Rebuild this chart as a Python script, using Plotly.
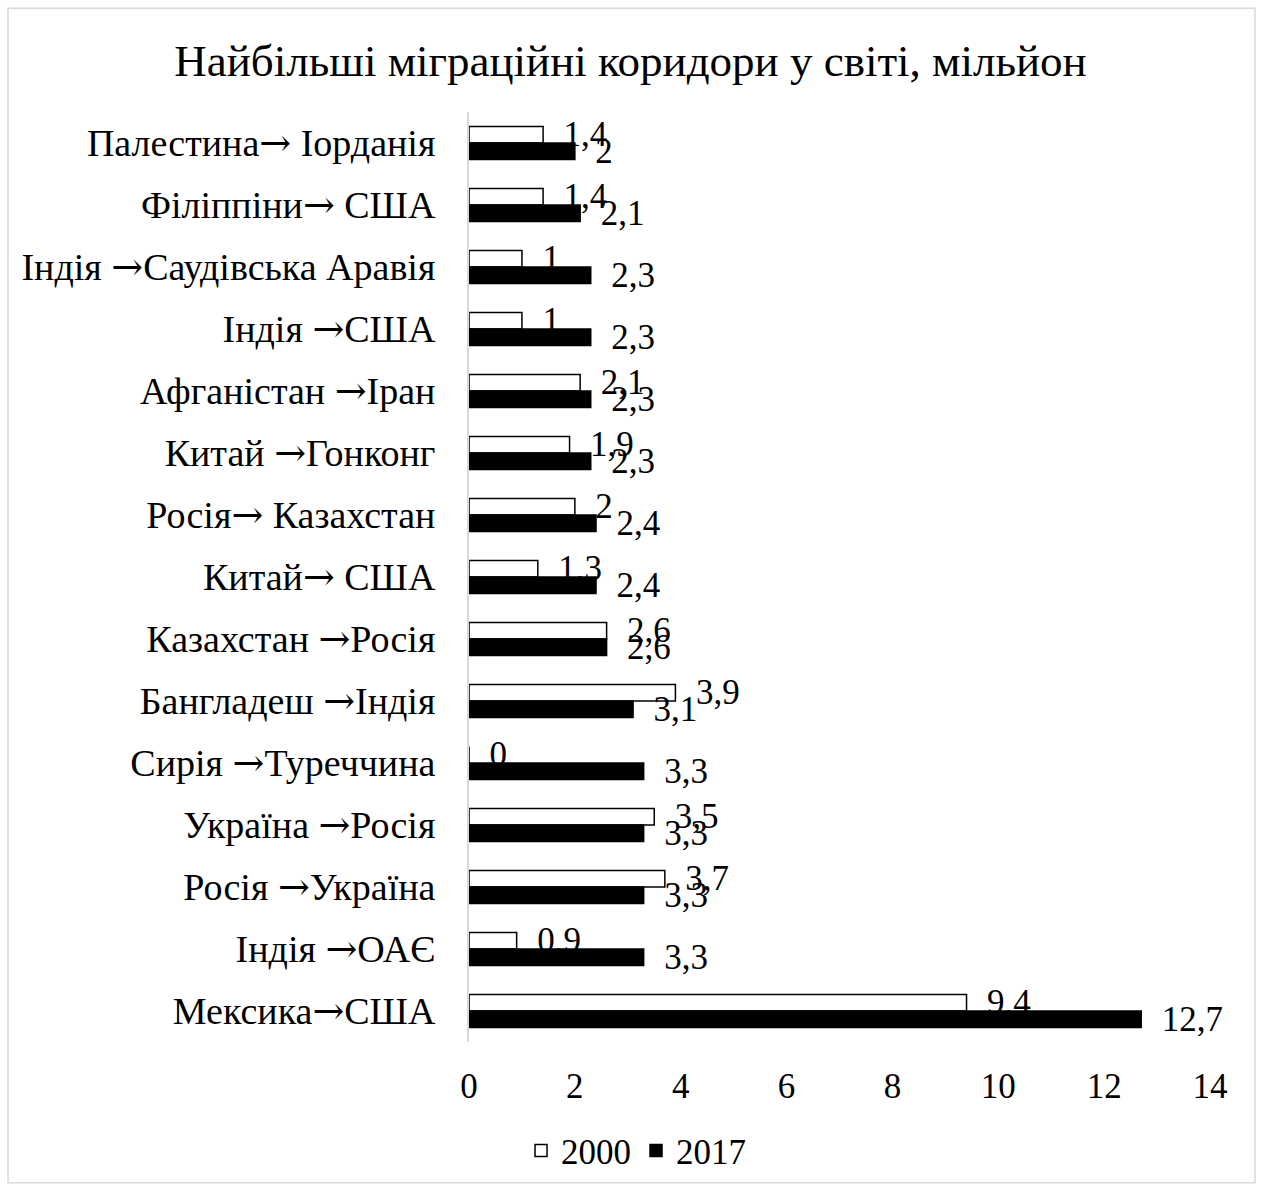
import plotly.graph_objects as go

# Categories, top to bottom as in the chart
corridors = [
    "Палестина→ Іорданія",
    "Філіппіни→ США",
    "Індія →Саудівська Аравія",
    "Індія →США",
    "Афганістан →Іран",
    "Китай →Гонконг",
    "Росія→ Казахстан",
    "Китай→ США",
    "Казахстан →Росія",
    "Бангладеш →Індія",
    "Сирія →Туреччина",
    "Україна →Росія",
    "Росія →Україна",
    "Індія →ОАЄ",
    "Мексика→США",
]
values_2000 = [1.4, 1.4, 1, 1, 2.1, 1.9, 2, 1.3, 2.6, 3.9, 0, 3.5, 3.7, 0.9, 9.4]
values_2017 = [2, 2.1, 2.3, 2.3, 2.3, 2.3, 2.4, 2.4, 2.6, 3.1, 3.3, 3.3, 3.3, 3.3, 12.7]
x_ticks = [0, 2, 4, 6, 8, 10, 12, 14]


def ua_label(v):
    # decimal comma, as in the original; nbsp pushes the label off the bar end
    return "\u00a0\u00a0" + f"{v:g}".replace(".", ",")


FONT = "Liberation Serif, Times New Roman, serif"
ARROW = '<span style="font-family:DejaVu Serif">→</span>'
tick_text = [c.replace("→", ARROW) for c in corridors]

fig = go.Figure()

fig.add_trace(go.Bar(
    name="2000",
    y=corridors,
    x=values_2000,
    orientation="h",
    marker=dict(color="white", line=dict(color="black", width=1.5)),
    text=[ua_label(v) for v in values_2000],
    textposition="outside",
    textfont=dict(size=35, color="black", family=FONT),
    constraintext="none",
    cliponaxis=False,
))

fig.add_trace(go.Bar(
    name="2017",
    y=corridors,
    x=values_2017,
    orientation="h",
    marker=dict(color="black", line=dict(color="black", width=1.5)),
    text=[ua_label(v) for v in values_2017],
    textposition="outside",
    textfont=dict(size=35, color="black", family=FONT),
    constraintext="none",
    cliponaxis=False,
))

# light grey frame around the whole chart
fig.add_shape(
    type="rect", xref="paper", yref="paper",
    x0=-0.6221, x1=1.0607, y0=-0.1513, y1=1.1116,
    line=dict(color="#d9d9d9", width=1.5), fillcolor="rgba(0,0,0,0)",
    layer="below",
)

fig.update_layout(
    width=1261,
    height=1192,
    barmode="group",
    bargap=0.47,
    bargroupgap=0,
    paper_bgcolor="white",
    plot_bgcolor="white",
    font=dict(family=FONT, size=35, color="black"),
    title=dict(
        text="Найбільші міграційні коридори у світі, мільйон",
        font=dict(size=45, family=FONT, color="black"),
        x=0.5, xanchor="center",
        y=0.9497, yanchor="middle",
    ),
    margin=dict(l=469, r=51, t=112, b=148),
    showlegend=True,
    legend=dict(
        orientation="h",
        x=0.2254, xanchor="center",
        y=-0.117, yanchor="middle",
        font=dict(size=35, family=FONT),
        itemwidth=30,
        traceorder="normal",
    ),
    xaxis=dict(
        range=[0, 14],
        tickvals=x_ticks,
        showgrid=False,
        zeroline=False,
        showline=False,
        ticks="",
        ticklabelstandoff=20,
        tickfont=dict(size=35, family=FONT),
    ),
    yaxis=dict(
        autorange="reversed",
        tickvals=corridors,
        ticktext=tick_text,
        showgrid=False,
        showline=True,
        linecolor="#d9d9d9",
        linewidth=2,
        ticks="",
        ticklabelstandoff=24,
        tickfont=dict(size=38, family=FONT),
    ),
)

# drop the page margin so the figure sits flush in the window
fig.write_html(
    "out.html",
    config={"displayModeBar": False},
    post_script="document.body.style.margin='0';document.body.style.overflow='hidden';",
)
